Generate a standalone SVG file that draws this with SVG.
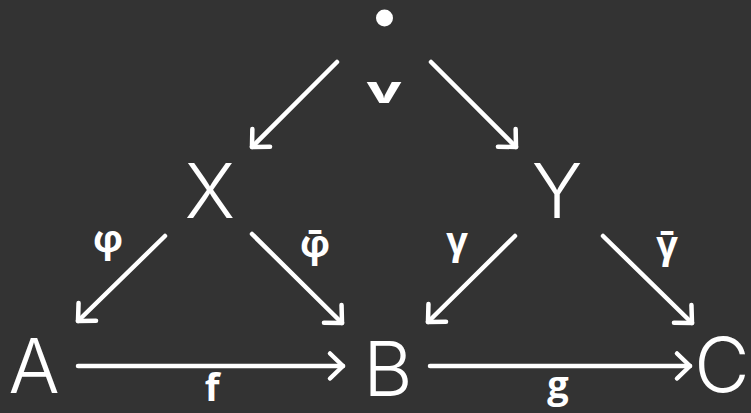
<svg xmlns="http://www.w3.org/2000/svg" width="751" height="413" viewBox="0 0 751 413">
<defs>
<marker id="ah" markerUnits="userSpaceOnUse" viewBox="-20 -20 40 40" markerWidth="40" markerHeight="40" refX="0" refY="0" orient="auto" overflow="visible">
<path d="M-13,-12.5 L0,0 L-13,12.5" fill="none" stroke="#fff" stroke-width="4.5" stroke-linecap="round" stroke-linejoin="round"/>
</marker>
<style>
.big{font-family:Inter,"Open Sans","Liberation Sans",sans-serif;font-weight:300;font-size:76px;fill:#fff;text-anchor:middle}
.lbl{font-family:"Open Sans","Liberation Sans",sans-serif;font-weight:bold;font-size:38px;fill:#fff;text-anchor:middle}
.edge{stroke:#fff;stroke-width:4.5;stroke-linecap:round;fill:none;marker-end:url(#ah)}
</style>
</defs>
<rect width="751" height="413" fill="#333333"/>
<g id="top"><circle cx="384.5" cy="18" r="8.5" fill="#fff"/></g>
<g id="X"><text class="big" x="210" y="218">X</text></g>
<g id="Y"><text class="big" x="557" y="218">Y</text></g>
<g id="A"><text class="big" x="34" y="393">A</text></g>
<g id="B"><text class="big" x="388" y="396">B</text></g>
<g id="C"><text class="big" x="722" y="392" font-size="72">C</text></g>
<g id="connectors">
<line class="edge" x1="337" y1="62" x2="252" y2="147"/>
<line class="edge" x1="431" y1="62" x2="516" y2="147"/>
<line class="edge" x1="165" y1="236" x2="78" y2="321"/>
<line class="edge" x1="252" y1="234" x2="342" y2="323"/>
<line class="edge" x1="515" y1="236" x2="428" y2="322"/>
<line class="edge" x1="603" y1="236" x2="692" y2="323"/>
<line class="edge" x1="78" y1="366" x2="343" y2="366"/>
<line class="edge" x1="430" y1="366" x2="690" y2="366"/>
</g>
<g id="labels">
<text class="lbl" x="384" y="103" font-size="34" transform="translate(384 0) scale(1.6 1) translate(-384 0)">v</text>
<text class="lbl" x="108" y="252">φ</text>
<text class="lbl" x="315" y="257">φ̄</text>
<text class="lbl" x="457" y="254">γ</text>
<text class="lbl" x="667" y="258">γ̄</text>
<text class="lbl" x="212" y="401">f</text>
<text class="lbl" x="558" y="398">g</text>
</g>
</svg>
